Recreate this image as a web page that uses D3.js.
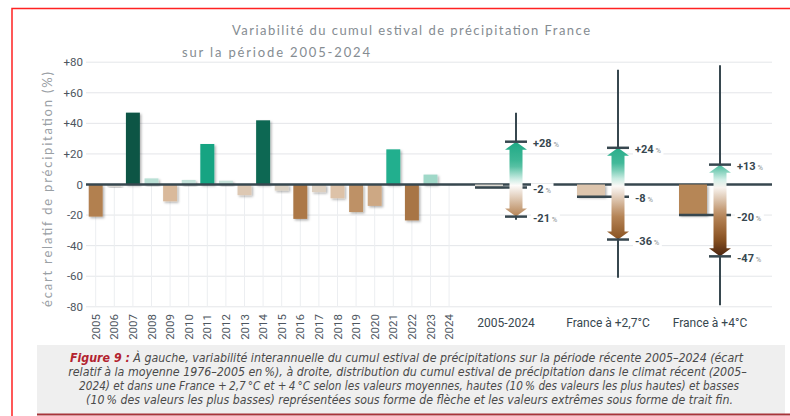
<!DOCTYPE html>
<html>
<head>
<meta charset="utf-8">
<script src="https://cdnjs.cloudflare.com/ajax/libs/d3/7.8.5/d3.min.js"></script>
<style>
body{margin:0;background:#fff;}
</style>
</head>
<body>
<script>
// data

const years = ['2005','2006','2007','2008','2009','2010','2011','2012','2013','2014',
               '2015','2016','2017','2018','2019','2020','2021','2022','2023','2024'];
const values = [-21, -1.5, 47, 4, -11, 3, 26.5, 2.5, -7, 42,
                -4, -22.5, -5, -9, -18, -14, 23, -23.5, 6.5, -0.5];

const yTicks = [80, 60, 40, 20, 0, -20, -40, -60, -80];

const groupNames = ['2005-2024', 'France à +2,7°C', 'France à +4°C'];
const groupMean = [-2, -8, -20];
const groupHigh = [28, 24, 13];
const groupLow = [-21, -36, -47];
const groupMax = [47, 75, 78];
const groupMin = [-23, -61, -79];

const titleLines = ['Variabilité du cumul estival de précipitation France', 'sur la période 2005-2024'];
const yTitle = 'écart relatif de précipitation (%)';
const captionLabel = 'Figure 9 :';
const captionLines = [
  ' À gauche, variabilité interannuelle du cumul estival de précipitations sur la période récente 2005–2024 (écart',
  'relatif à la moyenne 1976–2005 en\u2009%), à droite, distribution du cumul estival de précipitation dans le climat récent (2005–',
  '2024) et dans une France +\u20092,7\u2009°C et +\u20094\u2009°C selon les valeurs moyennes, hautes (10\u2009% des valeurs les plus hautes) et basses',
  '(10\u2009% des valeurs les plus basses) représentées sous forme de flèche et les valeurs extrêmes sous forme de trait fin.'
];

// dimensions
const width = 790, height = 416;
const left = 86, right = 772;
const dark = '#37474f';

const svg = d3.select('body')
.append('svg')
.attr('width', width)
.attr('height', height)
.style('font-family', 'Roboto, sans-serif');

const defs = svg.append('defs');
defs.append('filter')
.attr('id', 'shadow')
.attr('x', '-30%').attr('y', '-30%').attr('width', '170%').attr('height', '170%')
.append('feDropShadow')
.attr('dx', 1.5).attr('dy', 1.5).attr('stdDeviation', 1)
.attr('flood-color', '#000').attr('flood-opacity', 0.3);

// scales
const y = d3.scaleLinear().domain([-80, 80]).range([306.8, 62.2]);

const x = d3.scaleBand()
.domain(years)
.range([86.4, 458.4])
.paddingInner(0.25)
.paddingOuter(0.125);

const gx = d3.scalePoint().domain(groupNames).range([516, 720]);

const barColor = d3.scaleLinear()
.domain([-47, -22, -10, 0, 3, 8, 25, 47])
.range(['#4a2612', '#ae7a48', '#ddbfa2', '#dcdedb', '#c3e3da', '#8fd3c0', '#14aa87', '#0a5444']);

const arrowColor = d3.scaleLinear()
.domain([-47, -36, -20, 0, 13, 28])
.range(['#4a2410', '#8a5220', '#b8875a', '#ffffff', '#45ba9a', '#1fa985']);

// frame
svg.append('path')
.attr('d', `M12,${height} V8.5 H${width}`)
.attr('fill', 'none')
.attr('stroke', '#ff2222')
.attr('stroke-width', 1.5);

// title
const titleX = [232, 182];
const titleW = [358, 188];
svg.selectAll('.title')
.data(titleLines)
.enter()
.append('text')
.attr('class', 'title')
.attr('x', (d, i) => titleX[i])
.attr('y', (d, i) => i === 0 ? 35 : 57)
.attr('textLength', (d, i) => titleW[i])
.attr('lengthAdjust', 'spacing')
.attr('font-family', 'Lato, sans-serif')
.attr('font-size', 13)
.attr('fill', '#858c92')
.text(d => d);

// grid
svg.append('g')
.selectAll('line')
.data(yTicks)
.enter()
.append('line')
.attr('x1', left).attr('x2', right)
.attr('y1', d => y(d)).attr('y2', d => y(d))
.attr('stroke', '#e4e6e9')
.attr('stroke-width', 1);

svg.append('g')
.selectAll('line')
.data(years)
.enter()
.append('line')
.attr('x1', d => x(d) + x.bandwidth() / 2)
.attr('x2', d => x(d) + x.bandwidth() / 2)
.attr('y1', y(0)).attr('y2', y(-80))
.attr('stroke', '#eceef1')
.attr('stroke-width', 1);

// y axis labels
svg.append('g')
.selectAll('text')
.data(yTicks)
.enter()
.append('text')
.attr('x', 83)
.attr('y', d => y(d))
.attr('dy', '0.35em')
.attr('text-anchor', 'end')
.attr('font-size', 11.5)
.attr('fill', '#4d5660')
.text(d => d > 0 ? '+' + d : String(d));

svg.append('text')
.attr('transform', 'translate(52,189.5) rotate(-90)')
.attr('text-anchor', 'middle')
.attr('textLength', 235)
.attr('lengthAdjust', 'spacing')
.attr('font-family', 'Lato, sans-serif')
.attr('font-size', 13)
.attr('fill', '#9aa0a5')
.text(yTitle);

// year bars
svg.append('g')
.selectAll('rect')
.data(values)
.enter()
.append('rect')
.attr('x', (d, i) => x(years[i]))
.attr('y', d => y(Math.max(0, d)))
.attr('width', x.bandwidth())
.attr('height', d => Math.abs(y(d) - y(0)))
.attr('fill', d => barColor(d))
.attr('filter', 'url(#shadow)');

// year labels
svg.append('g')
.selectAll('text')
.data(years)
.enter()
.append('text')
.attr('transform', d => `translate(${x(d) + x.bandwidth() / 2},314) rotate(-90)`)
.attr('dy', '0.35em')
.attr('text-anchor', 'end')
.attr('font-size', 11.5)
.attr('fill', '#4d5660')
.text(d => d);

// group labels
svg.append('g')
.selectAll('text')
.data(groupNames)
.enter()
.append('text')
.attr('x', d => gx(d) - 10)
.attr('y', 327)
.attr('text-anchor', 'middle')
.attr('font-size', 12)
.attr('fill', dark)
.text(d => d);

// zero line
svg.append('line')
.attr('x1', left).attr('x2', right)
.attr('y1', y(0)).attr('y2', y(0))
.attr('stroke', dark)
.attr('stroke-width', 2.5);

// groups on the right
groupNames.forEach((name, i) => {
  const cx = gx(name);
  const g = svg.append('g');

  // mean bar
  g.append('rect')
  .attr('x', cx - 41)
  .attr('y', y(Math.max(0, groupMean[i])))
  .attr('width', 28)
  .attr('height', Math.abs(y(groupMean[i]) - y(0)))
  .attr('fill', barColor(groupMean[i]))
  .attr('filter', 'url(#shadow)');

  g.append('line')
  .attr('x1', cx - 41).attr('x2', cx + 11)
  .attr('y1', y(groupMean[i])).attr('y2', y(groupMean[i]))
  .attr('stroke', dark)
  .attr('stroke-width', 2.5);

  // extremes
  g.append('line')
  .attr('x1', cx).attr('x2', cx)
  .attr('y1', y(groupMax[i])).attr('y2', y(groupMin[i]))
  .attr('stroke', dark)
  .attr('stroke-width', 2);

  // arrow with gradient
  const ty = y(groupHigh[i]), by = y(groupLow[i]);
  const grad = defs.append('linearGradient')
  .attr('id', 'grad' + i)
  .attr('gradientUnits', 'userSpaceOnUse')
  .attr('x1', 0).attr('x2', 0)
  .attr('y1', ty).attr('y2', by);
  d3.range(13).forEach(k => {
    const v = groupHigh[i] + (groupLow[i] - groupHigh[i]) * k / 12;
    grad.append('stop')
    .attr('offset', k / 12)
    .attr('stop-color', arrowColor(v));
  });

  const hw = 11, sw = 6.5, hl = 8;
  const pts = [
    [cx, ty], [cx + hw, ty + hl], [cx + sw, ty + hl], [cx + sw, by - hl], [cx + hw, by - hl],
    [cx, by], [cx - hw, by - hl], [cx - sw, by - hl], [cx - sw, ty + hl], [cx - hw, ty + hl]
  ];
  g.append('path')
  .attr('d', d3.line()(pts) + 'Z')
  .attr('fill', `url(#grad${i})`);

  // high / low ticks
  [groupHigh[i], groupLow[i]].forEach(v => {
    g.append('line')
    .attr('x1', cx - 11).attr('x2', cx + 11)
    .attr('y1', y(v)).attr('y2', y(v))
    .attr('stroke', dark)
    .attr('stroke-width', 2.5);
  });

  // value labels
  [groupHigh[i], groupMean[i], groupLow[i]].forEach(v => {
    const lg = g.append('g').attr('transform', `translate(${cx + 17},${y(v)})`);
    const bg = lg.append('rect').attr('fill', '#fff');
    const t = lg.append('text')
    .attr('dy', '0.35em')
    .attr('fill', dark);
    t.append('tspan')
    .attr('font-size', 11)
    .attr('font-weight', 'bold')
    .text(v > 0 ? '+' + v : String(v));
    t.append('tspan')
    .attr('font-size', 7.5)
    .attr('fill', '#8a9196')
    .text(' %');
    const b = t.node().getBBox();
    bg.attr('x', b.x - 2).attr('y', b.y).attr('width', b.width + 4).attr('height', b.height);
  });
});

// caption
svg.append('rect')
.attr('x', 37).attr('y', 345)
.attr('width', 748).attr('height', 69)
.attr('fill', '#efefef');

svg.append('line')
.attr('x1', 37).attr('x2', width)
.attr('y1', 414.5).attr('y2', 414.5)
.attr('stroke', '#a8343a')
.attr('stroke-width', 2);

// caption lines are squeezed horizontally to the measured widths
const capX = [406.5, 407.5, 409, 409.5];
const capW = [689, 685, 660, 647];
const caption = svg.append('g')
.attr('font-family', "'Liberation Sans Narrow', 'DejaVu Sans Condensed', Roboto, sans-serif")
.attr('font-style', 'italic')
.attr('font-size', 12.3)
.attr('fill', '#4a4a4a');

captionLines.forEach((line, i) => {
  const t = caption.append('text')
  .attr('text-anchor', 'middle');
  if (i === 0) {
    t.append('tspan')
    .attr('fill', '#b3232f')
    .attr('font-weight', 'bold')
    .text(captionLabel);
  }
  t.append('tspan').text(line);
  const w = t.node().getComputedTextLength();
  t.attr('transform', `translate(${capX[i]},${362 + i * 14}) scale(${Math.min(1, capW[i] / w)},1)`);
});
</script>
</body>
</html>
